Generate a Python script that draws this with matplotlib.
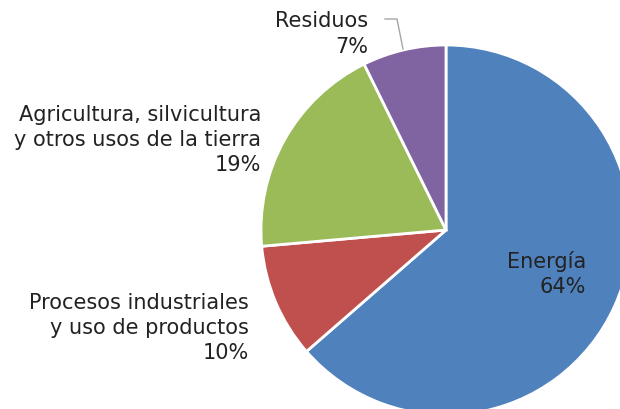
import matplotlib
matplotlib.use('Agg')
import matplotlib.pyplot as plt

# data
sectors = ['Energía', 'Procesos industriales\ny uso de productos',
           'Agricultura, silvicultura\ny otros usos de la tierra', 'Residuos']
shares = [63.6, 10.0, 19.1, 7.3]
colors = ['#4F81BD', '#C0504D', '#9BBB59', '#8064A2']

W, H = 620, 410
fig = plt.figure(figsize=(W / 100, H / 100), dpi=100)
ax = fig.add_axes([0, 0, 1, 1])

cx, cy, r = 446, H - 231, 185
ax.pie(shares, colors=colors, startangle=90, counterclock=False,
       center=(cx, cy), radius=r, frame=True,
       wedgeprops=dict(edgecolor='white', linewidth=2))
ax.set_xlim(0, W)
ax.set_ylim(0, H)
ax.set_aspect('equal')
ax.axis('off')

# label positions in pixels (right edge, centre y)
label_pos = [(586, 274), (249, 328), (261, 140), (368, 34)]
for name, val, (x, y) in zip(sectors, shares, label_pos):
    ax.text(x, H - y, f'{name}\n{round(val):.0f}%', ha='right', va='center',
            fontsize=15, color='#222222', linespacing=1.32,
            family='DejaVu Sans')

# leader line for Residuos
ax.plot([385, 397, 403], [H - 20, H - 20, H - 50], color='#A6A6A6', lw=1)

fig.savefig('out.png', dpi=100)
